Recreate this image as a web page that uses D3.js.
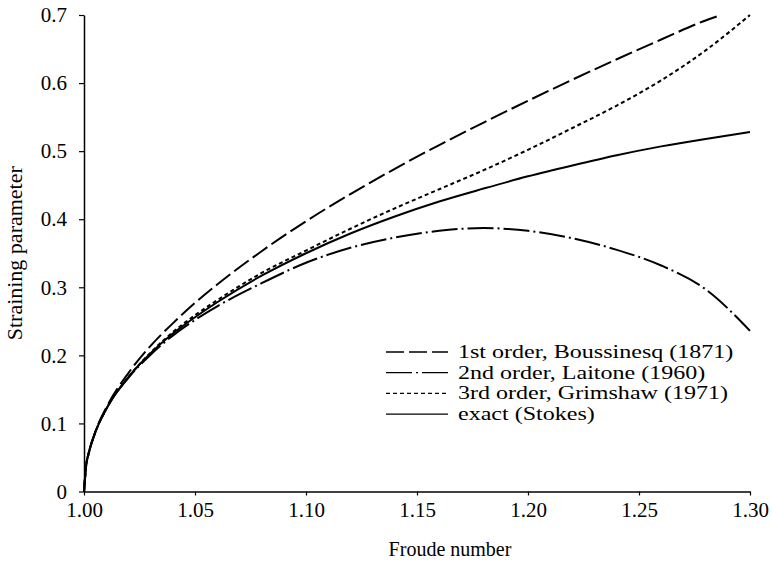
<!DOCTYPE html>
<html>
<head>
<meta charset="utf-8">
<script src="https://cdn.jsdelivr.net/npm/d3@7"></script>
<style>
  html, body { margin: 0; padding: 0; background: #fff; }
  svg { display: block; font-family: "Liberation Serif", "Times New Roman", serif; }
</style>
</head>
<body>
<div id="chart"></div>
<script>
// Froude number samples (x) shared by all series
const froude = [1.000, 1.001, 1.002, 1.005, 1.01, 1.02, 1.03, 1.04, 1.05, 1.06, 1.08, 1.10,
                1.12, 1.14, 1.16, 1.18, 1.20, 1.22, 1.24, 1.26, 1.28, 1.30];

// straining parameter
const firstOrder  = [0, 0.039, 0.055, 0.087, 0.123, 0.174, 0.214, 0.247, 0.277, 0.304, 0.353, 0.397,
                     0.437, 0.474, 0.509, 0.542, 0.574, 0.605, 0.635, 0.664, 0.692, null];
const secondOrder = [0, 0.039, 0.054, 0.086, 0.121, 0.167, 0.201, 0.229, 0.252, 0.272, 0.306, 0.336,
                     0.358, 0.373, 0.383, 0.387, 0.383, 0.372, 0.355, 0.332, 0.297, 0.236];
const thirdOrder  = [0, 0.039, 0.055, 0.086, 0.121, 0.168, 0.204, 0.234, 0.259, 0.281, 0.321, 0.354,
                     0.386, 0.416, 0.444, 0.472, 0.502, 0.534, 0.567, 0.604, 0.648, 0.700];
const exact       = [0, 0.039, 0.055, 0.086, 0.121, 0.168, 0.203, 0.232, 0.256, 0.278, 0.317, 0.350,
                     0.379, 0.404, 0.426, 0.445, 0.463, 0.479, 0.494, 0.507, 0.518, 0.528];
// first order leaves the frame at the top
const firstOrderEnd = {x: 1.287, y: 0.700};

const xTicks = [1.00, 1.05, 1.10, 1.15, 1.20, 1.25, 1.30];
const yTicks = [0, 0.1, 0.2, 0.3, 0.4, 0.5, 0.6, 0.7];

const legendLabels = [
    "1st order, Boussinesq (1871)",
    "2nd order, Laitone (1960)",
    "3rd order, Grimshaw (1971)",
    "exact (Stokes)"
];

const dims = {width: 772, height: 566, marginLeft: 84, marginRight: 22, marginTop: 15, marginBottom: 74.5};

const toPoints = (vals) => froude.map((f, i) => ({x: f, y: vals[i]})).filter(d => d.y != null);

const series = [
    {label: legendLabels[0], points: [...toPoints(firstOrder), firstOrderEnd], dash: "18 5"},
    {label: legendLabels[1], points: toPoints(secondOrder), dash: "26 4 2 4"},
    {label: legendLabels[2], points: toPoints(thirdOrder), dash: "4 3"},
    {label: legendLabels[3], points: toPoints(exact), dash: null}
];

const {width, height, marginLeft, marginRight, marginTop, marginBottom} = dims;

const x = d3.scaleLinear().domain([1.0, 1.3]).range([marginLeft, width - marginRight]);
const y = d3.scaleLinear().domain([0, 0.7]).range([height - marginBottom, marginTop]);

const svg = d3.select("#chart").append("svg")
    .attr("width", width)
    .attr("height", height);

// x axis
svg.append("g")
    .attr("transform", `translate(0,${height - marginBottom})`)
    .call(d3.axisBottom(x).tickValues(xTicks).tickFormat(d3.format(".2f")).tickSize(4).tickSizeOuter(0).tickPadding(7))
    .call(g => g.select(".domain").attr("stroke-width", 1.5))
    .call(g => g.selectAll(".tick line").attr("stroke-width", 1.2))
    .call(g => g.selectAll(".tick text")
        .attr("font-size", 21)
        .attr("font-family", "Liberation Serif")
        .attr("fill", "#000"));

// y axis
svg.append("g")
    .attr("transform", `translate(${marginLeft},0)`)
    .call(d3.axisLeft(y).tickValues(yTicks).tickFormat(d => d === 0 ? "0" : d3.format(".1f")(d)).tickSize(5).tickSizeOuter(0).tickPadding(12))
    .call(g => g.select(".domain").attr("stroke-width", 1.5))
    .call(g => g.selectAll(".tick line").attr("stroke-width", 1.2))
    .call(g => g.selectAll(".tick text")
        .attr("font-size", 21)
        .attr("font-family", "Liberation Serif")
        .attr("fill", "#000"));

// axis titles
svg.append("text")
    .attr("x", 450)
    .attr("y", 556)
    .attr("text-anchor", "middle")
    .attr("font-size", 20)
    .text("Froude number");

svg.append("text")
    .attr("transform", `translate(22,${(marginTop + height - marginBottom) / 2}) rotate(-90)`)
    .attr("text-anchor", "middle")
    .attr("font-size", 22)
    .text("Straining parameter");

const line = d3.line()
    .x(d => x(d.x))
    .y(d => y(d.y))
    .curve(d3.curveMonotoneX);

svg.append("g")
    .selectAll("path")
    .data(series)
    .join("path")
    .attr("fill", "none")
    .attr("stroke", "#000")
    .attr("stroke-width", 2)
    .attr("stroke-dasharray", d => d.dash)
    .attr("d", d => line(d.points));

// legend (the original type is set wide and tight, hence the horizontal stretch)
const legend = svg.append("g")
    .attr("transform", "translate(386,352)");

const rows = legend.selectAll("g")
    .data(series)
    .join("g")
    .attr("transform", (d, i) => `translate(0,${i * 20.7})`);

rows.append("line")
    .attr("x1", 0)
    .attr("x2", 62)
    .attr("y1", 0)
    .attr("y2", 0)
    .attr("stroke", "#000")
    .attr("stroke-width", 1.3)
    .attr("stroke-dasharray", d => d.dash);

rows.append("text")
    .attr("transform", "translate(72,6) scale(1.3,1)")
    .attr("font-size", 18.5)
    .text(d => d.label);
</script>
</body>
</html>
